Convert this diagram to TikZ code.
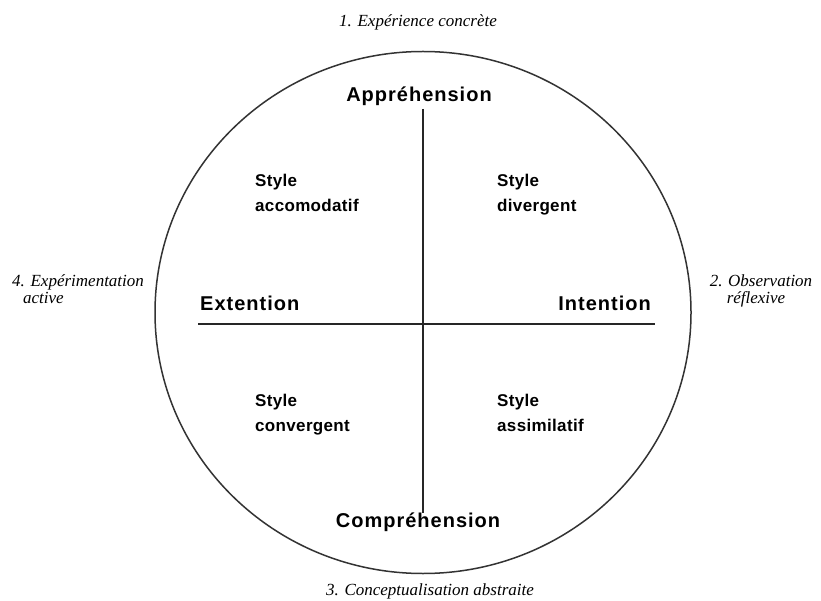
\documentclass[tikz,border=0pt]{standalone}
\usepackage{fontspec}
\setmainfont{Liberation Serif}
\newfontfamily\labelfont[LetterSpace=5]{Liberation Sans}
\newfontfamily\stylefont[LetterSpace=2]{Liberation Sans}
\usetikzlibrary{positioning}
\begin{document}
\begin{tikzpicture}[x=1pt,y=-1pt,
  axislabel/.style={font=\labelfont\bfseries\fontsize{20}{24}\selectfont, inner sep=0pt},
  stylelabel/.style={font=\stylefont\bfseries\fontsize{17}{25}\selectfont, inner sep=0pt, align=left},
  pole/.style={font=\itshape\fontsize{17}{16}\selectfont, inner sep=0pt},
  axis/.style={line width=1.4pt, draw=black!85},
  rim/.style={line width=1.5pt, draw=black!80}]
\useasboundingbox (0,0) rectangle (821,601);
\fill[white] (0,0) rectangle (821,601);

% learning cycle
\draw[rim] (423,312.5) ellipse [x radius=268, y radius=261];

% axes
\coordinate (vtop) at (423,109);
\coordinate (vbot) at (423,513);
\coordinate (hleft) at (198,324);
\coordinate (hright) at (655,324);
\draw[axis] (vtop) -- (vbot);
\draw[axis] (hleft) -- (hright);

% axis labels
\node[axislabel, anchor=base] (appr) at (419,102) {Appréhension};
\node[axislabel, anchor=base] (compr) at (418,527) {Compréhension};
\node[axislabel, anchor=base west] (ext) at (200,311) {Extention};
\node[axislabel, anchor=base east] (int) at (651,311) {Intention};

% the four styles
\node[stylelabel, anchor=north west] (accom) at (255,174) {Style\\accomodatif};
\node[stylelabel, anchor=north west] (diverg) at (497,174) {Style\\divergent};
\node[stylelabel, anchor=north west] (converg) at (255,394) {Style\\convergent};
\node[stylelabel, anchor=north west] (assim) at (497,394) {Style\\assimilatif};

% the four stages
\node[pole, anchor=base] (st1) at (418,27) {1. Expérience concrète};
\node[pole, anchor=base] (st2a) at (761,287) {2. Observation};
\node[pole, anchor=base] (st2b) at (756,303) {réflexive};
\node[pole, anchor=base] (st3) at (430,595) {3. Conceptualisation abstraite};
\node[pole, anchor=base west] (st4a) at (12,287) {4. Expérimentation};
\node[pole, anchor=base west] (st4b) at (23,303) {active};
\end{tikzpicture}
\end{document}
